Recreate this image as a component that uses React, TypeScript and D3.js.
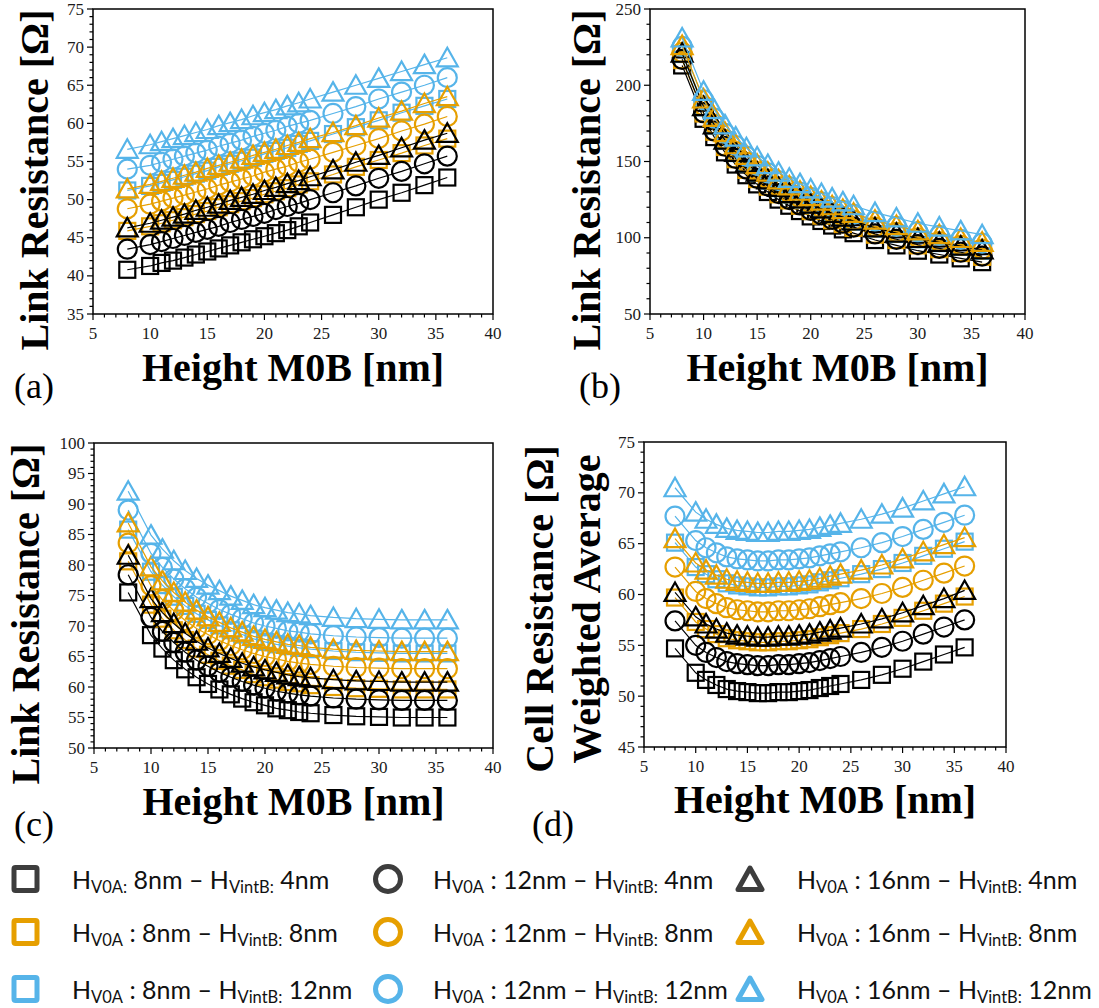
import React from 'react';
import * as d3 from 'd3';

// ---------- DATA ----------
const heights = [8, 10, 11, 12, 13, 14, 15, 16, 17, 18, 19, 20, 21, 22, 23, 24, 26, 28, 30, 32, 34, 36];

// Panel (a)
const aSqBlack = [40.8, 41.3, 41.7, 42.0, 42.4, 42.8, 43.2, 43.6, 44.0, 44.4, 44.8, 45.2, 45.6, 46.0, 46.5, 47.0, 48.0, 49.0, 50.0, 50.9, 51.9, 52.9];
const aSqOrange = [45.9, 46.5, 46.9, 47.3, 47.7, 48.1, 48.5, 49.0, 49.4, 49.8, 50.2, 50.7, 51.1, 51.5, 52.0, 52.4, 53.3, 54.3, 55.2, 56.1, 57.1, 58.0];
const aSqBlue = [51.2, 51.8, 52.2, 52.6, 53.0, 53.4, 53.8, 54.3, 54.7, 55.1, 55.5, 56.0, 56.4, 56.8, 57.3, 57.7, 58.6, 59.5, 60.4, 61.4, 62.3, 63.2];
const aCiBlack = [43.5, 44.1, 44.5, 44.9, 45.3, 45.7, 46.1, 46.5, 47.0, 47.4, 47.8, 48.2, 48.7, 49.1, 49.5, 50.0, 50.9, 51.8, 52.8, 53.7, 54.7, 55.7];
const aCiOrange = [48.8, 49.4, 49.8, 50.2, 50.6, 51.0, 51.4, 51.9, 52.3, 52.7, 53.1, 53.6, 54.0, 54.4, 54.9, 55.3, 56.2, 57.1, 58.0, 59.0, 59.9, 60.9];
const aCiBlue = [54.0, 54.5, 54.9, 55.3, 55.7, 56.1, 56.5, 57.0, 57.4, 57.8, 58.3, 58.7, 59.1, 59.6, 60.0, 60.4, 61.3, 62.2, 63.2, 64.1, 65.0, 66.0];
const aTrBlack = [46.3, 46.9, 47.3, 47.7, 48.1, 48.6, 49.0, 49.4, 49.9, 50.3, 50.7, 51.2, 51.6, 52.1, 52.5, 53.0, 53.9, 54.9, 55.8, 56.8, 57.8, 58.7];
const aTrOrange = [51.4, 52.0, 52.4, 52.8, 53.2, 53.6, 54.1, 54.5, 54.9, 55.3, 55.8, 56.2, 56.6, 57.1, 57.5, 58.0, 58.8, 59.7, 60.7, 61.6, 62.6, 63.5];
const aTrBlue = [56.6, 57.2, 57.6, 58.0, 58.4, 58.8, 59.2, 59.7, 60.1, 60.5, 61.0, 61.4, 61.8, 62.3, 62.7, 63.2, 64.1, 65.0, 65.9, 66.8, 67.7, 68.6];

// Panel (b)
const bSqBlack = [213, 178, 166, 156, 148, 141, 135, 130, 125, 121, 117.5, 114, 111, 108, 105.5, 103, 98.5, 95, 91.5, 89, 86.5, 84];
const bSqOrange = [216.5, 181.5, 169.5, 159.5, 151.5, 144.5, 138.5, 133.5, 128.5, 124.5, 121, 117.5, 114.5, 111.5, 109, 106.5, 102, 98.5, 95, 92.5, 90, 87.5];
const bSqBlue = [220.5, 185.5, 173.5, 163.5, 155.5, 148.5, 142.5, 137.5, 132.5, 128.5, 125, 121.5, 118.5, 115.5, 113, 110.5, 106, 102.5, 99, 96.5, 94, 91.5];
const bCiBlack = [217, 182, 170, 160, 152, 145, 139, 134, 129, 125, 121.5, 118, 115, 112, 109.5, 107, 102.5, 99, 95.5, 93, 90.5, 88];
const bCiOrange = [221.5, 186.5, 174.5, 164.5, 156.5, 149.5, 143.5, 138.5, 133.5, 129.5, 126, 122.5, 119.5, 116.5, 114, 111.5, 107, 103.5, 100, 97.5, 95, 92.5];
const bCiBlue = [225.5, 190.5, 178.5, 168.5, 160.5, 153.5, 147.5, 142.5, 137.5, 133.5, 130, 126.5, 123.5, 120.5, 118, 115.5, 111, 107.5, 104, 101.5, 99, 96.5];
const bTrBlack = [221, 186, 174, 164, 156, 149, 143, 138, 133, 129, 125.5, 122, 119, 116, 113.5, 111, 106.5, 103, 99.5, 97, 94.5, 92];
const bTrOrange = [226, 191, 179, 169, 161, 154, 148, 143, 138, 134, 130.5, 127, 124, 121, 118.5, 116, 111.5, 108, 104.5, 102, 99.5, 97];
const bTrBlue = [231, 196, 184, 174, 166, 159, 153, 148, 143, 139, 135.5, 132, 129, 126, 123.5, 121, 116.5, 113, 109.5, 107, 104.5, 102];

// Panel (c)
const cSqBlack = [75.5, 68.5, 66.3, 64.4, 62.9, 61.6, 60.5, 59.6, 58.8, 58.1, 57.5, 57.0, 56.5, 56.2, 55.9, 55.7, 55.4, 55.2, 55.1, 55.0, 55.0, 55.0];
const cSqOrange = [80.6, 73.5, 71.2, 69.3, 67.7, 66.3, 65.3, 64.3, 63.5, 62.8, 62.1, 61.6, 61.2, 60.8, 60.6, 60.3, 60.0, 59.8, 59.7, 59.6, 59.6, 59.6];
const cSqBlue = [85.8, 78.9, 76.7, 74.8, 73.3, 72.0, 71.0, 70.1, 69.3, 68.6, 67.9, 67.4, 67.0, 66.7, 66.4, 66.2, 65.9, 65.7, 65.6, 65.5, 65.5, 65.5];
const cCiBlack = [78.4, 71.4, 69.1, 67.3, 65.7, 64.4, 63.4, 62.4, 61.6, 60.9, 60.3, 59.8, 59.3, 59.0, 58.7, 58.5, 58.2, 58.0, 57.9, 57.8, 57.8, 57.8];
const cCiOrange = [83.6, 76.6, 74.3, 72.5, 70.9, 69.6, 68.6, 67.6, 66.8, 66.1, 65.5, 65.0, 64.6, 64.2, 63.9, 63.7, 63.4, 63.2, 63.1, 63.0, 63.0, 63.0];
const cCiBlue = [89.0, 81.9, 79.6, 77.7, 76.1, 74.7, 73.7, 72.7, 71.9, 71.2, 70.5, 70.0, 69.6, 69.2, 69.0, 68.7, 68.4, 68.2, 68.1, 68.0, 68.0, 68.0];
const cTrBlack = [81.6, 74.5, 72.2, 70.4, 68.8, 67.5, 66.4, 65.5, 64.7, 63.9, 63.3, 62.8, 62.4, 62.0, 61.7, 61.5, 61.2, 61.0, 60.9, 60.8, 60.8, 60.8];
const cTrOrange = [86.9, 79.7, 77.4, 75.5, 73.9, 72.6, 71.5, 70.6, 69.7, 69.0, 68.3, 67.8, 67.4, 67.0, 66.8, 66.5, 66.2, 66.0, 65.9, 65.8, 65.8, 65.8];
const cTrBlue = [92.1, 84.9, 82.6, 80.7, 79.1, 77.8, 76.7, 75.8, 74.9, 74.2, 73.5, 73.0, 72.6, 72.2, 72.0, 71.7, 71.4, 71.2, 71.1, 71.0, 71.0, 71.0];

// Panel (d)
const dSqBlack = [54.7, 52.3, 51.6, 51.1, 50.7, 50.5, 50.4, 50.3, 50.3, 50.4, 50.4, 50.5, 50.6, 50.8, 51.0, 51.2, 51.6, 52.1, 52.7, 53.4, 54.1, 54.8];
const dSqOrange = [59.7, 57.3, 56.6, 56.1, 55.7, 55.5, 55.4, 55.3, 55.3, 55.4, 55.4, 55.5, 55.6, 55.8, 56.0, 56.2, 56.6, 57.1, 57.7, 58.4, 59.1, 59.8];
const dSqBlue = [65.1, 62.7, 62.0, 61.5, 61.1, 60.9, 60.8, 60.7, 60.7, 60.8, 60.8, 60.9, 61.0, 61.2, 61.4, 61.6, 62.0, 62.5, 63.1, 63.8, 64.5, 65.2];
const dCiBlack = [57.4, 55.0, 54.3, 53.8, 53.4, 53.2, 53.1, 53.0, 53.0, 53.1, 53.1, 53.2, 53.3, 53.5, 53.7, 53.9, 54.3, 54.8, 55.4, 56.1, 56.8, 57.5];
const dCiOrange = [62.7, 60.3, 59.6, 59.1, 58.7, 58.5, 58.4, 58.3, 58.3, 58.4, 58.4, 58.5, 58.6, 58.8, 59.0, 59.2, 59.6, 60.1, 60.7, 61.4, 62.1, 62.8];
const dCiBlue = [67.7, 65.3, 64.6, 64.1, 63.7, 63.5, 63.4, 63.3, 63.3, 63.4, 63.4, 63.5, 63.6, 63.8, 64.0, 64.2, 64.6, 65.1, 65.7, 66.4, 67.1, 67.8];
const dTrBlack = [60.2, 57.8, 57.1, 56.6, 56.2, 56.0, 55.9, 55.8, 55.8, 55.9, 55.9, 56.0, 56.1, 56.3, 56.5, 56.7, 57.1, 57.6, 58.2, 58.9, 59.6, 60.4];
const dTrOrange = [65.5, 63.1, 62.4, 61.9, 61.5, 61.3, 61.2, 61.1, 61.1, 61.2, 61.2, 61.3, 61.4, 61.6, 61.8, 62.0, 62.4, 62.9, 63.5, 64.2, 64.9, 65.6];
const dTrBlue = [70.5, 68.1, 67.4, 66.9, 66.5, 66.3, 66.2, 66.1, 66.1, 66.2, 66.2, 66.3, 66.4, 66.6, 66.8, 67.0, 67.4, 67.9, 68.5, 69.2, 69.9, 70.6];

const xTicks = [5, 10, 15, 20, 25, 30, 35, 40];
const aTicks = [35, 40, 45, 50, 55, 60, 65, 70, 75];
const bTicks = [50, 100, 150, 200, 250];
const cTicks = [50, 55, 60, 65, 70, 75, 80, 85, 90, 95, 100];
const dTicks = [45, 50, 55, 60, 65, 70, 75];

const legendV0A = ['8nm', '12nm', '16nm'];
const legendVintB = ['4nm', '8nm', '12nm'];

// ---------- STYLE ----------
const plotColors = ['#000000', '#E69F00', '#56B4E9'];
const legendColors = ['#3d3d3d', '#E69F00', '#56B4E9'];
const shapes = ['square', 'circle', 'triangle'];
const SERIF = '"Liberation Serif", "Times New Roman", serif';
const SANS = 'Lato, "Open Sans", sans-serif';

type Panel = {
  label: string;
  left: number; right: number; top: number; bottom: number;
  yDomain: [number, number];
  yTicks: number[];
  yMinor: number;
  series: number[][][];
  yTitle: { lines: string[]; xs: number[]; cy: number };
  xTitleY: number;
  labelPos: [number, number];
};

const panels: Panel[] = [
  {
    label: '(a)', left: 93, right: 493, top: 9, bottom: 314,
    yDomain: [35, 75], yTicks: aTicks, yMinor: 1,
    series: [[aSqBlack, aSqOrange, aSqBlue], [aCiBlack, aCiOrange, aCiBlue], [aTrBlack, aTrOrange, aTrBlue]],
    yTitle: { lines: ['Link Resistance [Ω]'], xs: [48], cy: 180 },
    xTitleY: 381, labelPos: [14, 398],
  },
  {
    label: '(b)', left: 650, right: 1025, top: 9, bottom: 314,
    yDomain: [50, 250], yTicks: bTicks, yMinor: 10,
    series: [[bSqBlack, bSqOrange, bSqBlue], [bCiBlack, bCiOrange, bCiBlue], [bTrBlack, bTrOrange, bTrBlue]],
    yTitle: { lines: ['Link Resistance [Ω]'], xs: [600], cy: 180 },
    xTitleY: 381, labelPos: [579, 398],
  },
  {
    label: '(c)', left: 94, right: 493, top: 443, bottom: 748,
    yDomain: [50, 100], yTicks: cTicks, yMinor: 1,
    series: [[cSqBlack, cSqOrange, cSqBlue], [cCiBlack, cCiOrange, cCiBlue], [cTrBlack, cTrOrange, cTrBlue]],
    yTitle: { lines: ['Link Resistance [Ω]'], xs: [39], cy: 614 },
    xTitleY: 815, labelPos: [14, 836],
  },
  {
    label: '(d)', left: 644, right: 1006, top: 442, bottom: 747,
    yDomain: [45, 75], yTicks: dTicks, yMinor: 1,
    series: [[dSqBlack, dSqOrange, dSqBlue], [dCiBlack, dCiOrange, dCiBlue], [dTrBlack, dTrOrange, dTrBlue]],
    yTitle: { lines: ['Cell Resistance [Ω]', 'Weighted Average'], xs: [553, 600], cy: 609 },
    xTitleY: 813, labelPos: [532, 836],
  },
];

function Marker({ shape, cx, cy, color, sw }: { shape: string; cx: number; cy: number; color: string; sw: number }) {
  if (shape === 'square') {
    return <rect x={cx - 8} y={cy - 8} width={16} height={16} fill="none" stroke={color} strokeWidth={sw} />;
  }
  if (shape === 'circle') {
    return <circle cx={cx} cy={cy} r={9.5} fill="none" stroke={color} strokeWidth={sw} />;
  }
  const d = `M${cx},${cy - 10} L${cx + 10.5},${cy + 8.5} L${cx - 10.5},${cy + 8.5} Z`;
  return <path d={d} fill="none" stroke={color} strokeWidth={sw} strokeLinejoin="miter" />;
}

function PanelView({ p }: { p: Panel }) {
  const x = d3.scaleLinear().domain([5, 40]).range([p.left, p.right]);
  const y = d3.scaleLinear().domain(p.yDomain).range([p.bottom, p.top]);
  const line = d3.line<number>().x((_, i) => x(heights[i])).y((v) => y(v));
  const xMinor = d3.range(5, 40.001, 1);
  const yMinor = d3.range(p.yDomain[0], p.yDomain[1] + 0.001, p.yMinor);
  const cx = (p.left + p.right) / 2;
  return (
    <g>
      {shapes.map((shape, si) =>
        plotColors.map((col, ci) => {
          const vals = p.series[si][ci];
          return (
            <g key={`${si}-${ci}`}>
              <path d={line(vals) || ''} fill="none" stroke={col} strokeWidth={1.2} />
              {vals.map((v, i) => (
                <Marker key={i} shape={shape} cx={x(heights[i])} cy={y(v)} color={col} sw={2.2} />
              ))}
            </g>
          );
        })
      )}
      <rect x={p.left} y={p.top} width={p.right - p.left} height={p.bottom - p.top} fill="none" stroke="#000" strokeWidth={1.5} />
      {xMinor.map((t) => (
        <line key={`xm${t}`} x1={x(t)} x2={x(t)} y1={p.bottom} y2={p.bottom + (t % 5 === 0 ? 6 : 3.5)} stroke="#000" strokeWidth={1.2} />
      ))}
      {xTicks.map((t) => (
        <text key={`xl${t}`} x={x(t)} y={p.bottom + 25} textAnchor="middle" fontFamily={SERIF} fontSize={17} fill="#1a1a1a">{t}</text>
      ))}
      {yMinor.map((t) => {
        const major = p.yTicks.some((m) => Math.abs(m - t) < 1e-6);
        return <line key={`ym${t}`} x1={p.left} x2={p.left - (major ? 6 : 3.5)} y1={y(t)} y2={y(t)} stroke="#000" strokeWidth={1.2} />;
      })}
      {p.yTicks.map((t) => (
        <text key={`yl${t}`} x={p.left - 9} y={y(t)} dy="0.33em" textAnchor="end" fontFamily={SERIF} fontSize={17} fill="#1a1a1a">{t}</text>
      ))}
      <text x={cx} y={p.xTitleY} textAnchor="middle" fontFamily={SERIF} fontWeight="bold" fontSize={40} fill="#000">Height M0B [nm]</text>
      {p.yTitle.lines.map((ln, i) => (
        <text key={ln} transform={`translate(${p.yTitle.xs[i]},${p.yTitle.cy}) rotate(-90)`} textAnchor="middle" fontFamily={SERIF} fontWeight="bold" fontSize={40} fill="#000">{ln}</text>
      ))}
      <text x={p.labelPos[0]} y={p.labelPos[1]} fontFamily={SERIF} fontSize={36} fill="#000">{p.label}</text>
    </g>
  );
}

const rowY = [879, 932, 989];
const markerX = [25.5, 388, 750];
const textX = [72, 433, 797];

function LegendMarker({ shape, cx, cy, color }: { shape: string; cx: number; cy: number; color: string }) {
  if (shape === 'square') return <rect x={cx - 11.5} y={cy - 11.5} width={23} height={23} rx={1.5} fill="none" stroke={color} strokeWidth={5} />;
  if (shape === 'circle') return <circle cx={cx} cy={cy} r={12.5} fill="none" stroke={color} strokeWidth={5} />;
  const d = `M${cx},${cy - 11} L${cx + 12},${cy + 10.5} L${cx - 12},${cy + 10.5} Z`;
  return <path d={d} fill="none" stroke={color} strokeWidth={5} strokeLinejoin="round" />;
}

function Legend() {
  return (
    <g>
      {legendVintB.map((vb, ri) =>
        legendV0A.map((va, ci) => {
          const tight = ri === 0 && ci === 0;
          return (
            <g key={`${ri}-${ci}`}>
              <LegendMarker shape={shapes[ci]} cx={markerX[ci]} cy={rowY[ri]} color={legendColors[ri]} />
              <text x={textX[ci]} y={rowY[ri] + 9.5} fontFamily={SANS} fontSize={25} fill="#111">
                <tspan>H</tspan>
                <tspan fontSize={16.5} dy={4}>{tight ? 'V0A:' : 'V0A'}</tspan>
                <tspan dy={-4}>{tight ? ' ' : ' : '}{va} – H</tspan>
                <tspan fontSize={16.5} dy={4}>VintB:</tspan>
                <tspan dy={-4}> {vb}</tspan>
              </text>
            </g>
          );
        })
      )}
    </g>
  );
}

export default function App() {
  return (
    <svg width={1099} height={1008} viewBox="0 0 1099 1008" style={{ position: 'absolute', left: 0, top: 0, background: '#fff' }}>
      <rect width={1099} height={1008} fill="#fff" />
      {panels.map((p) => (
        <PanelView key={p.label} p={p} />
      ))}
      <Legend />
    </svg>
  );
}
